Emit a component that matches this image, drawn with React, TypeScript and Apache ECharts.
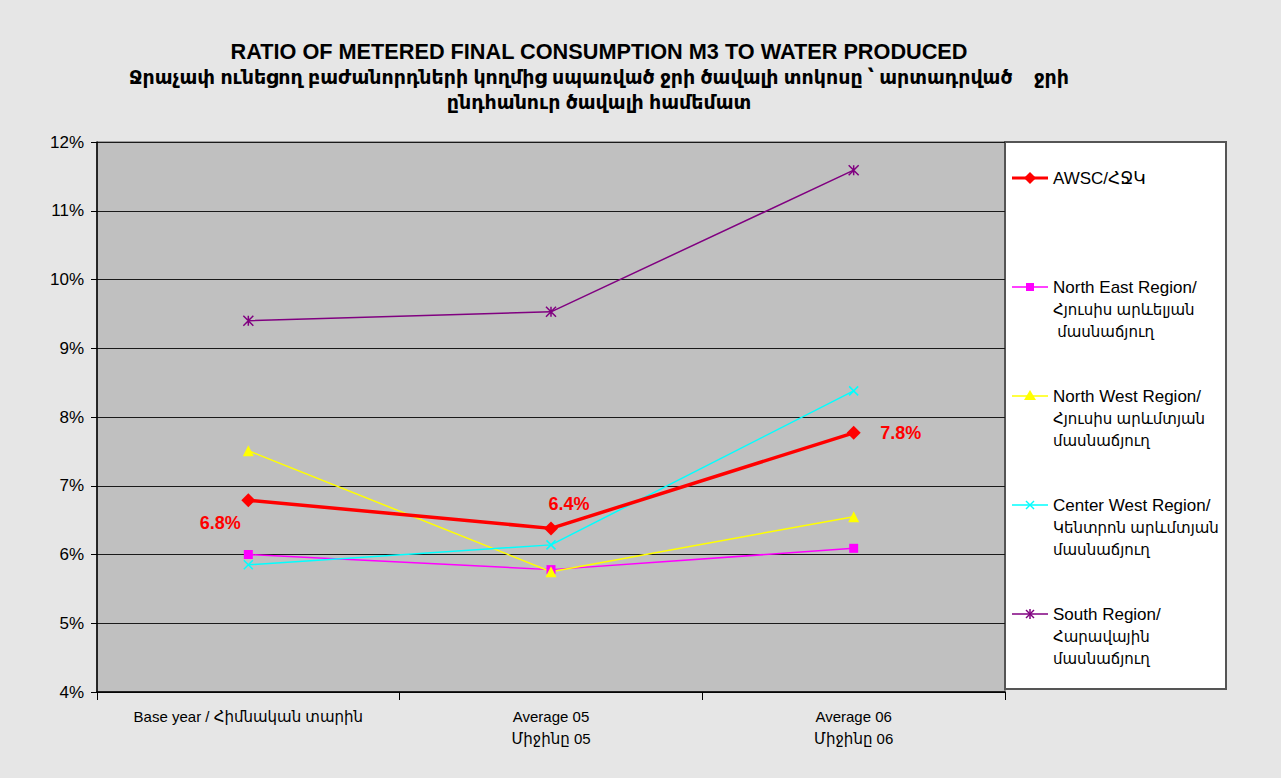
import React, { useEffect, useRef } from "react";
import * as echarts from "echarts";

const categories = [
  "Base year / Հիմնական տարին",
  "Average 05\nՄիջինը 05",
  "Average 06\nՄիջինը 06",
];
const awsc = [6.79, 6.38, 7.77];
const northEast = [6.0, 5.78, 6.09];
const northWest = [7.51, 5.75, 6.55];
const centerWest = [5.85, 6.14, 8.38];
const south = [9.4, 9.53, 11.59];

const seriesNames = [
  "AWSC/ՀՋԿ",
  "North East Region/\nՀյուսիս արևելյան\n մասնաճյուղ",
  "North West Region/\nՀյուսիս արևմտյան\nմասնաճյուղ",
  "Center West Region/\nԿենտրոն արևմտյան\nմասնաճյուղ",
  "South Region/\nՀարավային\nմասնաճյուղ",
];
const seriesColors = ["#ff0000", "#ff00ff", "#ffff00", "#00ffff", "#800080"];

const titleLine1 = "RATIO OF METERED FINAL CONSUMPTION M3 TO WATER PRODUCED";
const titleLine2 =
  "Ջրաչափ ունեցող բաժանորդների կողմից սպառված ջրի ծավալի տոկոսը ՝ արտադրված    ջրի\nընդհանուր ծավալի համեմատ";

const FONT = "'Liberation Sans', 'DejaVu Sans', Arial, sans-serif";

const CROSS = "path://M0,0L10,10M10,0L0,10";
const STAR = "path://M0,0L10,10M10,0L0,10M5,0L5,10";

const awscLabelOffsets: [number, number][] = [
  [-28, 23],
  [18, -24],
  [47, 0],
];

// Latin parts at a larger size, Armenian parts smaller (DejaVu Armenian glyphs are wide)
function richLegendText(name: string): string {
  return name
    .split("\n")
    .map((line) => (/[A-Za-z]/.test(line) ? `{a|${line}}` : `{b|${line}}`))
    .join("\n");
}

export default function App() {
  const ref = useRef<HTMLDivElement>(null);

  useEffect(() => {
    document.body.style.margin = "0";
    if (!ref.current) return;
    const chart = echarts.init(ref.current, null, { renderer: "svg" });

    const legendX = 1012;
    const legendRows = [178, 287, 396, 505, 614];
    const legendGraphics: any[] = [];
    legendRows.forEach((y, i) => {
      const c = seriesColors[i];
      const lw = i === 0 ? 3 : 1.5;
      legendGraphics.push({
        type: "line",
        shape: { x1: legendX, y1: y, x2: legendX + 36, y2: y },
        style: { stroke: c, lineWidth: lw },
      });
      const cx = legendX + 18;
      if (i === 0) {
        legendGraphics.push({
          type: "polygon",
          shape: { points: [[cx, y - 6], [cx + 6, y], [cx, y + 6], [cx - 6, y]] },
          style: { fill: c },
        });
      } else if (i === 1) {
        legendGraphics.push({
          type: "rect",
          shape: { x: cx - 4, y: y - 4, width: 8, height: 8 },
          style: { fill: c },
        });
      } else if (i === 2) {
        legendGraphics.push({
          type: "polygon",
          shape: { points: [[cx, y - 6], [cx + 6, y + 4], [cx - 6, y + 4]] },
          style: { fill: c },
        });
      } else if (i === 3) {
        legendGraphics.push(
          { type: "line", shape: { x1: cx - 4, y1: y - 4, x2: cx + 4, y2: y + 4 }, style: { stroke: c, lineWidth: 1.5 } },
          { type: "line", shape: { x1: cx + 4, y1: y - 4, x2: cx - 4, y2: y + 4 }, style: { stroke: c, lineWidth: 1.5 } }
        );
      } else {
        legendGraphics.push(
          { type: "line", shape: { x1: cx - 4, y1: y - 4, x2: cx + 4, y2: y + 4 }, style: { stroke: c, lineWidth: 1.5 } },
          { type: "line", shape: { x1: cx + 4, y1: y - 4, x2: cx - 4, y2: y + 4 }, style: { stroke: c, lineWidth: 1.5 } },
          { type: "line", shape: { x1: cx, y1: y - 5, x2: cx, y2: y + 5 }, style: { stroke: c, lineWidth: 1.5 } }
        );
      }
      legendGraphics.push({
        type: "text",
        x: legendX + 41,
        y: y - 11,
        style: {
          text: richLegendText(seriesNames[i]),
          fill: "#000",
          textVerticalAlign: "top",
          rich: {
            a: { fontFamily: FONT, fontSize: 17, lineHeight: 22, fill: "#000", color: "#000" },
            b: { fontFamily: FONT, fontSize: 15, lineHeight: 22, fill: "#000", color: "#000" },
          },
        },
      });
    });

    const baseLine = { type: "line", smooth: false, z: 3 } as any;

    chart.setOption({
      animation: false,
      backgroundColor: "#e6e6e6",
      title: {
        left: 594,
        top: 35,
        textAlign: "center",
        text: titleLine1,
        subtext: titleLine2,
        itemGap: 3,
        textStyle: { fontFamily: FONT, fontSize: 21.7, fontWeight: "bold", color: "#000" },
        subtextStyle: { fontFamily: FONT, fontSize: 19, fontWeight: "bold", color: "#000", lineHeight: 25 },
      },
      grid: {
        left: 97,
        top: 142,
        right: 276,
        bottom: 86,
        show: true,
        backgroundColor: "#c0c0c0",
        borderColor: "#555",
        borderWidth: 1,
      },
      xAxis: {
        type: "category",
        data: categories,
        boundaryGap: true,
        axisLine: { lineStyle: { color: "#000", width: 1.5 } },
        axisTick: { show: true, length: 8, lineStyle: { color: "#000" } },
        axisLabel: {
          fontFamily: FONT,
          fontSize: 15,
          color: "#000",
          margin: 13,
          lineHeight: 22,
          interval: 0,
        },
      },
      yAxis: {
        type: "value",
        min: 4,
        max: 12,
        interval: 1,
        axisLine: { show: true, lineStyle: { color: "#000", width: 1.5 } },
        axisTick: { show: true, length: 6, lineStyle: { color: "#000" } },
        axisLabel: {
          fontFamily: FONT,
          fontSize: 17,
          color: "#000",
          margin: 13,
          formatter: "{value}%",
        },
        splitLine: { show: true, lineStyle: { color: "#1a1a1a", width: 1 } },
      },
      graphic: [
        {
          type: "rect",
          shape: { x: 1005, y: 142, width: 221, height: 547 },
          style: { fill: "#ffffff", stroke: "#555", lineWidth: 2 },
          z: 0,
        },
        ...legendGraphics,
      ],
      series: [
        {
          ...baseLine,
          name: seriesNames[0],
          data: awsc.map((v, i) => ({
            value: v,
            label: { offset: awscLabelOffsets[i] },
          })),
          z: 5,
          lineStyle: { color: seriesColors[0], width: 3.5 },
          itemStyle: { color: seriesColors[0] },
          symbol: "diamond",
          symbolSize: 14,
          label: {
            show: true,
            position: "inside",
            formatter: (p: any) => Number(p.value).toFixed(1) + "%",
            fontFamily: FONT,
            fontSize: 18,
            fontWeight: "bold",
            color: "#ff0000",
          },
        },
        {
          ...baseLine,
          name: seriesNames[1],
          data: northEast,
          lineStyle: { color: seriesColors[1], width: 1.5 },
          itemStyle: { color: seriesColors[1] },
          symbol: "rect",
          symbolSize: 9,
        },
        {
          ...baseLine,
          name: seriesNames[2],
          data: northWest,
          lineStyle: { color: seriesColors[2], width: 1.5 },
          itemStyle: { color: seriesColors[2] },
          symbol: "triangle",
          symbolSize: 11,
        },
        {
          ...baseLine,
          name: seriesNames[3],
          data: centerWest,
          lineStyle: { color: seriesColors[3], width: 1.5 },
          itemStyle: { color: seriesColors[3], borderColor: seriesColors[3], borderWidth: 1.5 },
          symbol: CROSS,
          symbolSize: 9,
        },
        {
          ...baseLine,
          name: seriesNames[4],
          data: south,
          lineStyle: { color: seriesColors[4], width: 1.5 },
          itemStyle: { color: seriesColors[4], borderColor: seriesColors[4], borderWidth: 1.5 },
          symbol: STAR,
          symbolSize: 10,
        },
      ],
    });

    return () => chart.dispose();
  }, []);

  return <div ref={ref} style={{ width: 1281, height: 778 }} />;
}
